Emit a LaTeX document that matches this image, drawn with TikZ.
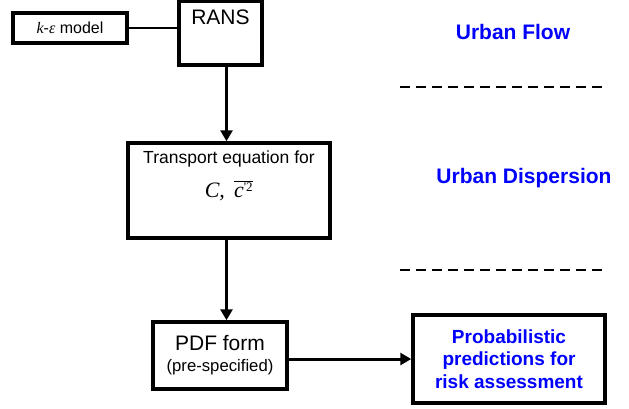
\documentclass[tikz,border=0pt]{standalone}
\usepackage{fontspec}
\setmainfont{Liberation Sans}
\newfontfamily\timesfont{Liberation Serif}
\usetikzlibrary{arrows.meta}
\definecolor{headblue}{RGB}{0,0,255}
\tikzset{
  box/.style={draw,line width=3.5pt,inner sep=0pt},
  flow/.style={line width=3pt,-{Triangle[length=11pt,width=12pt]}},
  link/.style={line width=2.2pt},
  sepline/.style={line width=2.5pt,dash pattern=on 10pt off 6pt},
  region/.style={text=headblue,font=\bfseries\fontsize{21}{24}\selectfont}
}
\begin{document}
\begin{tikzpicture}
    \useasboundingbox (0,0) rectangle (629pt,-408pt);

    \node[box,minimum width=114pt,minimum height=30pt,
      font=\fontsize{16}{18}\selectfont] (kmodel) at (70pt,-28pt)
      {{\timesfont\itshape k}-{\timesfont\itshape ε} model};

    \node[box,minimum width=83pt,minimum height=64pt] (rans) at (220.5pt,-33pt) {};
    \node[anchor=north,font=\fontsize{21}{24}\selectfont] (ranstext)
      at ([yshift=-5pt]rans.north) {RANS\strut};

    \node[box,minimum width=202pt,minimum height=95pt] (transport) at (229pt,-190.5pt) {};
    \node[anchor=north,align=center,inner sep=0pt,font=\fontsize{17.5}{20}\selectfont]
      (transporttext) at ([yshift=-8pt]transport.north) {
      Transport equation for\strut \\[10pt]
      {\fontsize{22}{24}\timesfont\itshape C,\,~$\overline{\hbox{c}^{\hbox{\fontsize{13}{13}\timesfont\upshape '2}}}$}};

    \node[box,minimum width=134pt,minimum height=67pt,align=center,
      font=\fontsize{21}{21}\selectfont] (pdf) at (220pt,-355.5pt) {
      PDF form \\
      {\fontsize{16.7}{18}\selectfont (pre-specified)}};

    \node[box,minimum width=192pt,minimum height=88pt,align=center,
      text=headblue,font=\bfseries\fontsize{19}{22.5}\selectfont] (prob) at (509pt,-359pt) {
      Probabilistic \\
      predictions for \\
      risk assessment};

    \node[region] (flowlabel) at (513pt,-32pt) {Urban Flow};
    \node[region] (displabel) at (524pt,-178pt) {Urban Dispersion};

    \draw[sepline] (400pt,-87pt) -- (607pt,-87pt);
    \draw[sepline] (400pt,-270pt) -- (607pt,-270pt);

    \coordinate (spine) at (226.5pt,0);
    \draw[link] (kmodel.east) -- (kmodel.east -| rans.west);
    \draw[flow] (rans.south -| spine) -- (transport.north -| spine);
    \draw[flow] (transport.south -| spine) -- (pdf.north -| spine);
    \draw[flow] (prob.west -| pdf.east) -- (prob.west);
  \end{tikzpicture}
\end{document}
